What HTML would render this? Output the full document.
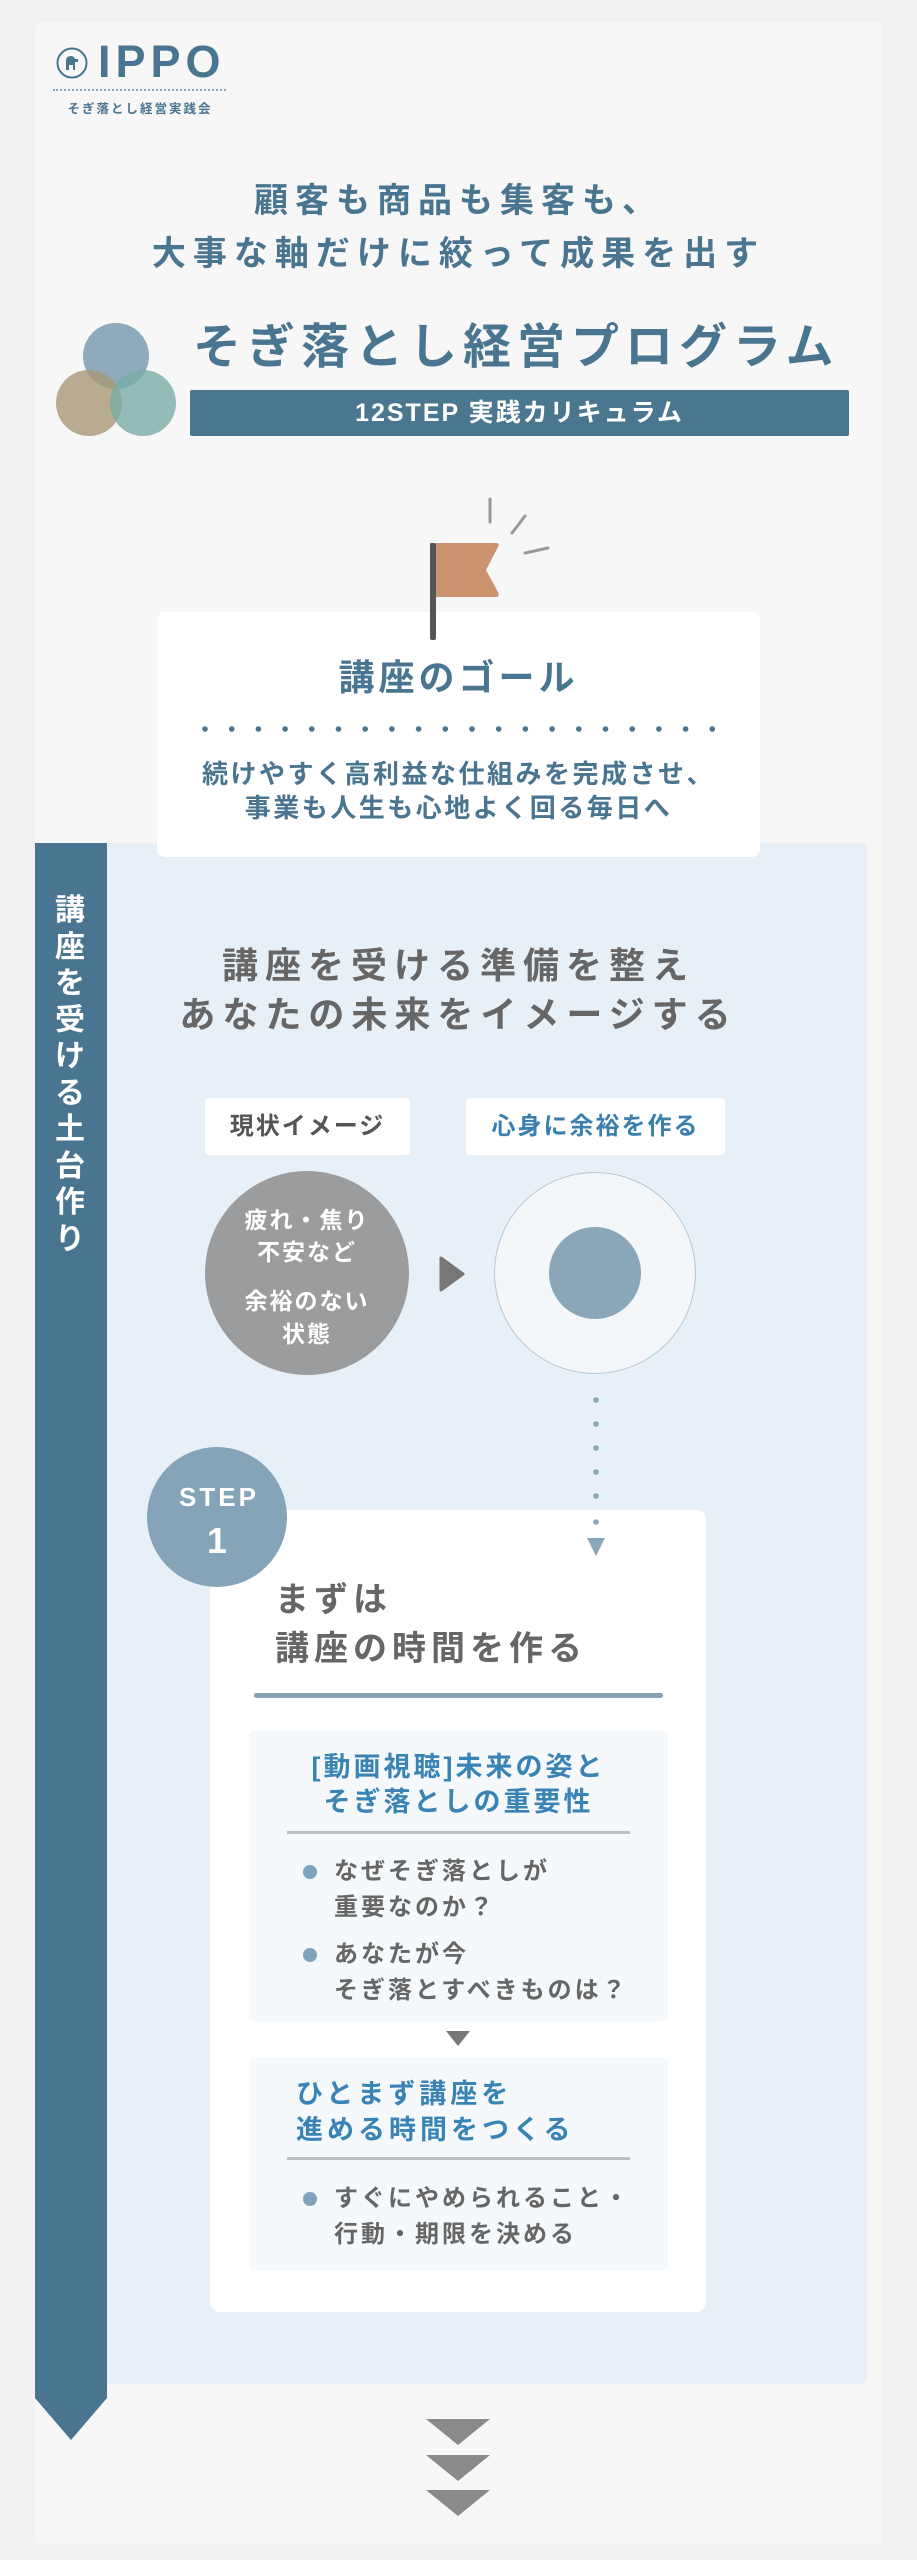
<!DOCTYPE html>
<html><head><meta charset="utf-8"><style>
*{margin:0;padding:0;box-sizing:border-box}
body{width:917px;height:2560px;background:#f3f2f1;position:relative;overflow:hidden;font-family:"Liberation Sans","Noto Sans CJK JP",sans-serif;font-weight:700}
.a{position:absolute}
.t{position:absolute;white-space:nowrap}
.c{text-align:center}
.blue{color:#4a7590}
.gray{color:#666}
</style></head><body>
<div class="a" style="left:35px;top:22px;width:847px;height:2522px;background:#f7f7f7;border-radius:6px"></div>

<!-- logo -->
<svg class="a" style="left:55px;top:46px" width="34" height="34" viewBox="0 0 34 34"><circle cx="17" cy="17" r="14.5" fill="none" stroke="#4a7590" stroke-width="2"/><path d="M11 24 V15 Q11 10 16 10 Q19 10 20 13 L23 13 L23 16 L20 16 L20 24 L18 24 L18 19 L14 19 L14 24 Z" fill="#4a7590"/></svg>
<div class="t blue" style="left:98px;top:36px;font-size:45px;line-height:52px;letter-spacing:5px;font-family:'Liberation Sans',sans-serif">IPPO</div>
<div class="a" style="left:53px;top:89px;width:173px;border-top:2px dotted #8aa3b5"></div>
<div class="t blue" style="left:60px;top:100px;width:160px;font-size:12.5px;line-height:18px;letter-spacing:2px;text-align:center">そぎ落とし経営実践会</div>

<!-- headline -->
<div class="t blue c" style="left:0;width:917px;top:180px;font-size:34px;line-height:42px;letter-spacing:7px">顧客も商品も集客も、</div>
<div class="t blue c" style="left:0;width:917px;top:233px;font-size:34px;line-height:42px;letter-spacing:7px">大事な軸だけに絞って成果を出す</div>

<!-- circles -->
<svg class="a" style="left:50px;top:318px" width="132" height="124">
<circle cx="66" cy="38" r="33" fill="#7b9db3" opacity="0.85"/>
<circle cx="39" cy="85" r="33" fill="#a89774" opacity="0.8"/>
<circle cx="93" cy="85" r="33" fill="#79aca5" opacity="0.8"/>
</svg>
<div class="t blue" style="left:193px;top:320px;font-size:48px;line-height:56px;letter-spacing:6px">そぎ落とし経営プログラム</div>
<div class="a c" style="left:190px;top:390px;width:659px;height:46px;background:#4b768f;border-radius:2px;color:#fff;font-size:25px;line-height:46px;letter-spacing:2px">12STEP 実践カリキュラム</div>

<!-- flag -->
<svg class="a" style="left:420px;top:490px" width="140" height="160">
<line x1="70" y1="9" x2="70" y2="32" stroke="#999" stroke-width="3" stroke-linecap="round"/>
<line x1="92" y1="43" x2="105" y2="26" stroke="#999" stroke-width="3" stroke-linecap="round"/>
<line x1="105" y1="63" x2="128" y2="58" stroke="#999" stroke-width="3" stroke-linecap="round"/>
<path d="M16 53 H76 Q80 53 78 57 L66 80 L78 102 Q80 107 76 107 H16 Z" fill="#cc9370"/>
<rect x="10" y="53" width="6" height="97" rx="2" fill="#555"/>
</svg>

<!-- blue section -->
<div class="a" style="left:35px;top:843px;width:832px;height:1541px;background:#e8f0f7;border-radius:0 6px 6px 0"></div>
<svg class="a" style="left:35px;top:843px" width="72" height="1600"><path d="M0 0 H72 V1555 L36 1597 L0 1555 Z" fill="#4a7590"/></svg>
<div class="a" style="left:52px;top:893px;width:36px;color:#fff;font-size:30px;line-height:36.5px;text-align:center">講<br>座<br>を<br>受<br>け<br>る<br>土<br>台<br>作<br>り</div>

<!-- goal card -->
<div class="a" style="left:157px;top:612px;width:603px;height:245px;background:#fff;border-radius:8px"></div>
<svg class="a" style="left:420px;top:540px" width="20" height="102"><rect x="10" y="3" width="6" height="97" rx="2" fill="#555"/></svg>
<div class="t blue c" style="left:157px;width:603px;top:655px;font-size:36px;line-height:46px;letter-spacing:4px">講座のゴール</div>
<svg class="a" style="left:200px;top:724px" width="520" height="10">
<g fill="#4a7590">
<circle cx="5" cy="5" r="2.8"/><circle cx="31.7" cy="5" r="2.8"/><circle cx="58.4" cy="5" r="2.8"/><circle cx="85.1" cy="5" r="2.8"/><circle cx="111.8" cy="5" r="2.8"/><circle cx="138.5" cy="5" r="2.8"/><circle cx="165.2" cy="5" r="2.8"/><circle cx="191.9" cy="5" r="2.8"/><circle cx="218.6" cy="5" r="2.8"/><circle cx="245.3" cy="5" r="2.8"/><circle cx="272" cy="5" r="2.8"/><circle cx="298.7" cy="5" r="2.8"/><circle cx="325.4" cy="5" r="2.8"/><circle cx="352.1" cy="5" r="2.8"/><circle cx="378.8" cy="5" r="2.8"/><circle cx="405.5" cy="5" r="2.8"/><circle cx="432.2" cy="5" r="2.8"/><circle cx="458.9" cy="5" r="2.8"/><circle cx="485.6" cy="5" r="2.8"/><circle cx="512.3" cy="5" r="2.8"/>
</g></svg>
<div class="t blue c" style="left:157px;width:603px;top:757px;font-size:26px;line-height:34px;letter-spacing:2.5px">続けやすく高利益な仕組みを完成させ、<br>事業も人生も心地よく回る毎日へ</div>

<!-- section heading -->
<div class="t gray c" style="left:0;width:917px;top:941px;font-size:36px;line-height:49px;letter-spacing:7px">講座を受ける準備を整え<br>あなたの未来をイメージする</div>

<div class="a c" style="left:205px;top:1098px;width:205px;height:57px;background:#fff;border-radius:4px;color:#555;font-size:24px;line-height:57px;letter-spacing:2px">現状イメージ</div>
<div class="a c" style="left:466px;top:1098px;width:259px;height:57px;background:#fff;border-radius:4px;color:#3a7fae;font-size:24px;line-height:57px;letter-spacing:2px">心身に余裕を作る</div>

<div class="a" style="left:205px;top:1171px;width:204px;height:204px;border-radius:50%;background:#9a9c9e"></div>
<div class="t c" style="left:205px;width:204px;top:1204px;color:#fff;font-size:23px;line-height:32px;letter-spacing:2px">疲れ・焦り<br>不安など</div>
<div class="t c" style="left:205px;width:204px;top:1285px;color:#fff;font-size:23px;line-height:33px;letter-spacing:2px">余裕のない<br>状態</div>
<svg class="a" style="left:438px;top:1255px" width="28" height="38"><path d="M3 3 L25 19 L3 35 Z" fill="#777" stroke="#777" stroke-width="3" stroke-linejoin="round"/></svg>

<div class="a" style="left:494px;top:1172px;width:202px;height:202px;border-radius:50%;background:#f3f7fa;border:1.5px solid #b5c6d3"></div>
<div class="a" style="left:549px;top:1227px;width:92px;height:92px;border-radius:50%;background:#8aa7ba"></div>

<svg class="a" style="left:586px;top:1395px" width="20" height="165"><g fill="#8aa7ba">
<circle cx="10" cy="5" r="2.8"/><circle cx="10" cy="29" r="2.8"/><circle cx="10" cy="53" r="2.8"/><circle cx="10" cy="77" r="2.8"/><circle cx="10" cy="101" r="2.8"/><circle cx="10" cy="125" r="2.8"/>
<path d="M1 143 H19 L10 161 Z"/></g></svg>

<!-- step card -->
<div class="a" style="left:210px;top:1510px;width:496px;height:802px;background:#fff;border-radius:10px"></div>
<svg class="a" style="left:586px;top:1510px" width="20" height="50"><g fill="#8aa7ba"><circle cx="10" cy="12" r="2.8"/><path d="M1 28 H19 L10 46 Z"/></g></svg>
<div class="a" style="left:147px;top:1447px;width:140px;height:140px;border-radius:50%;background:#86a4b8"></div>
<div class="t c" style="left:147px;width:144px;top:1481px;color:#fff;font-size:26px;line-height:32px;letter-spacing:3px;font-family:'Liberation Sans',sans-serif">STEP</div>
<div class="t c" style="left:147px;width:140px;top:1519px;color:#fff;font-size:36px;line-height:44px;font-family:'Liberation Sans',sans-serif">1</div>

<div class="t gray" style="left:275px;top:1576px;font-size:34px;line-height:49px;letter-spacing:5px">まずは<br>講座の時間を作る</div>
<div class="a" style="left:254px;top:1693px;width:409px;height:5px;border-radius:3px;background:#86a0b4"></div>

<div class="a" style="left:249px;top:1730px;width:419px;height:291px;background:#f5f9fb;border-radius:6px"></div>
<div class="t c" style="left:249px;width:419px;top:1750px;color:#3a84b5;font-size:27px;line-height:35px;letter-spacing:3px">[動画視聴]未来の姿と<br>そぎ落としの重要性</div>
<div class="a" style="left:287px;top:1831px;width:343px;height:3px;background:#bdbfc1"></div>
<div class="a" style="left:303px;top:1865px;width:14px;height:14px;border-radius:50%;background:#7fa3bb"></div>
<div class="t gray" style="left:334px;top:1854px;font-size:24px;line-height:36px;letter-spacing:3px">なぜそぎ落としが<br>重要なのか？</div>
<div class="a" style="left:303px;top:1948px;width:14px;height:14px;border-radius:50%;background:#7fa3bb"></div>
<div class="t gray" style="left:334px;top:1937px;font-size:24px;line-height:36px;letter-spacing:3px">あなたが今<br>そぎ落とすべきものは？</div>

<svg class="a" style="left:446px;top:2031px" width="24" height="16"><path d="M0 0 H24 L12 15 Z" fill="#777"/></svg>

<div class="a" style="left:249px;top:2057px;width:419px;height:214px;background:#f5f9fb;border-radius:6px"></div>
<div class="t" style="left:296px;top:2076px;color:#3a84b5;font-size:27px;line-height:36px;letter-spacing:4px">ひとまず講座を<br>進める時間をつくる</div>
<div class="a" style="left:287px;top:2157px;width:343px;height:3px;background:#bdbfc1"></div>
<div class="a" style="left:303px;top:2192px;width:14px;height:14px;border-radius:50%;background:#7fa3bb"></div>
<div class="t gray" style="left:334px;top:2181px;font-size:24px;line-height:36px;letter-spacing:3px">すぐにやめられること・<br>行動・期限を決める</div>

<!-- chevrons -->
<svg class="a" style="left:426px;top:2419px" width="64" height="100"><g fill="#8a8a8a">
<path d="M0 0 H64 L32 26 Z"/><path d="M0 36 H64 L32 62 Z"/><path d="M0 71 H64 L32 97 Z"/></g></svg>
</body></html>
